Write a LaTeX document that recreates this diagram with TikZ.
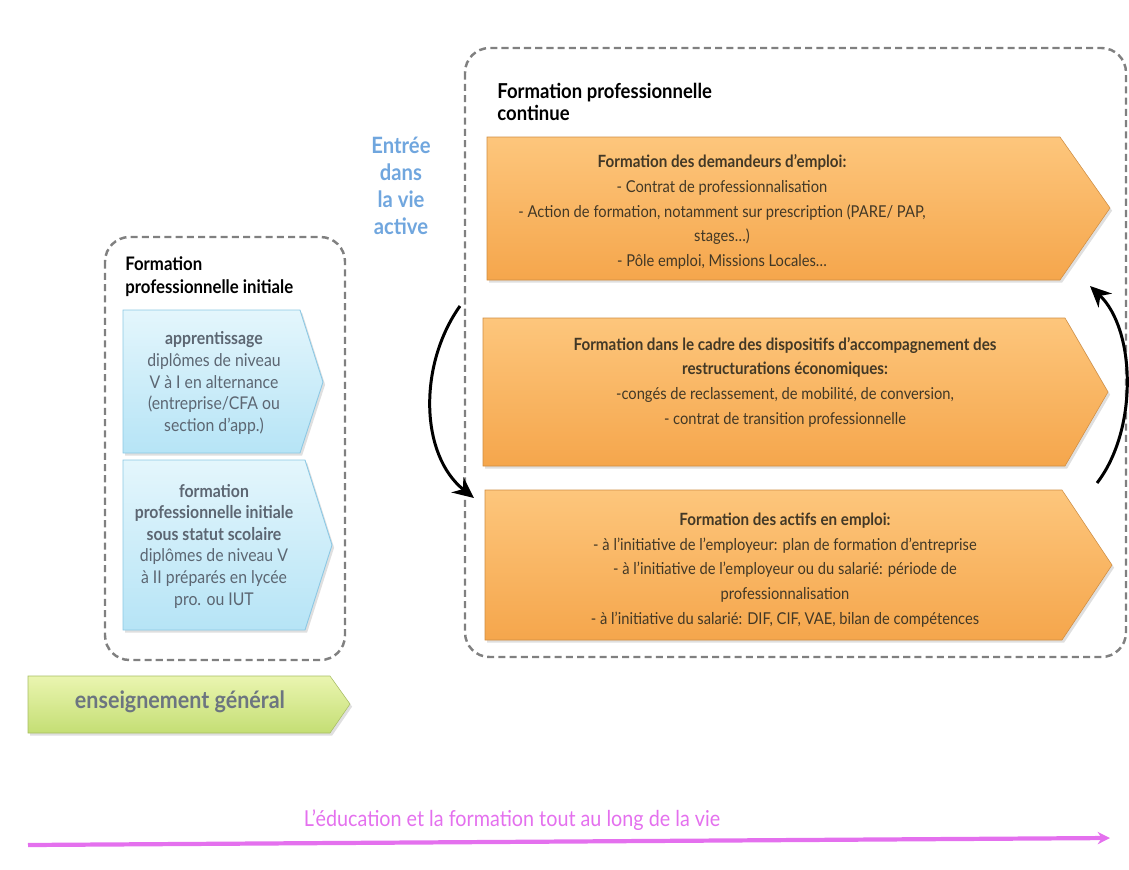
\documentclass[tikz,border=0pt]{standalone}
\usepackage{fontspec}
\setmainfont{Lato}[FakeStretch=0.9]
\usetikzlibrary{arrows.meta,shadows}

\definecolor{orangetop}{RGB}{253,198,124}
\definecolor{orangebot}{RGB}{245,166,76}
\definecolor{bluetop}{RGB}{228,246,252}
\definecolor{bluebot}{RGB}{182,228,246}
\definecolor{blueline}{RGB}{140,200,228}
\definecolor{greentop}{RGB}{234,245,176}
\definecolor{greenbot}{RGB}{196,222,116}
\definecolor{boxgray}{RGB}{128,128,128}
\definecolor{txtbrown}{RGB}{66,56,38}
\definecolor{txtgray}{RGB}{92,102,114}
\definecolor{entreeblue}{RGB}{112,166,222}
\definecolor{lifepink}{RGB}{228,112,238}

\tikzset{
  dashbox/.style={draw=boxgray, line width=1.4pt, dash pattern=on 4pt off 2.4pt, rounded corners=14pt},
  softshadow/.style={drop shadow={shadow xshift=1.2pt, shadow yshift=-1.5pt, opacity=0.25}},
  orangebox/.style={top color=orangetop, bottom color=orangebot, draw=orangebot!85!black, line width=0.3pt, softshadow},
  bluebox/.style={top color=bluetop, bottom color=bluebot, draw=blueline, line width=0.5pt, softshadow},
  greenbox/.style={top color=greentop, bottom color=greenbot, draw=greenbot!85!black, line width=0.3pt, softshadow},
  orangetxt/.style={align=center, text=txtbrown, font=\fontsize{9.3}{14}\selectfont},
  bluetxt/.style={align=center, text=txtgray, font=\fontsize{10}{12.3}\selectfont},
  titletxt/.style={align=left, anchor=north west, font=\bfseries, inner sep=0pt},
  cyclearrow/.style={line width=1.7pt, -{Stealth[length=12pt, width=11pt]}}
}

\begin{document}
\begin{tikzpicture}[x=0.02cm, y=-0.02cm]
  \useasboundingbox (0,0) rectangle (1129,869);

  % Initial training
  \draw[dashbox] (105,237) rectangle (345,660);
  \node[titletxt, font=\bfseries\fontsize{10.6}{13}\selectfont] (initTitle) at (125,256)
    {Formation\\professionnelle initiale};
  \path[bluebox] (123,310) -- (300,310) -- (323,382) -- (300,453) -- (123,453) -- cycle;
  \path[bluebox] (123,460) -- (305,460) -- (332,545) -- (305,630) -- (123,630) -- cycle;
  \node[bluetxt] (appr) at (214,383)
    {\textbf{apprentissage}\\diplômes de niveau\\V à I en alternance\\(entreprise/CFA ou\\section d'app.)};
  \node[bluetxt] (scol) at (214,546)
    {\textbf{formation}\\\textbf{professionnelle initiale}\\\textbf{sous statut scolaire}\\diplômes de niveau V\\à II préparés en lycée\\pro. ou IUT};

  % General education
  \path[greenbox] (28,676) -- (330,676) -- (350,704) -- (330,733) -- (28,733) -- cycle;
  \node[text=txtgray!90, font=\bfseries\fontsize{13.6}{15}\selectfont] (gen) at (180,702) {enseignement général};

  % Entry into working life
  \node[align=center, text=entreeblue, font=\bfseries\fontsize{12.8}{15.5}\selectfont] (entree) at (401,186)
    {Entrée\\dans\\la vie\\active};

  % Continuing training
  \draw[dashbox] (465,48) rectangle (1126,657);
  \node[titletxt, font=\bfseries\fontsize{11.7}{12.5}\selectfont] (contTitle) at (497,83)
    {Formation professionnelle\\continue};
  \path[orangebox] (487,137) -- (1060,137) -- (1110,208) -- (1060,280) -- (487,280) -- cycle;
  \path[orangebox] (483,318) -- (1065,318) -- (1108,392) -- (1065,466) -- (483,466) -- cycle;
  \path[orangebox] (485,490) -- (1062,490) -- (1112,565) -- (1062,640) -- (485,640) -- cycle;
  \node[orangetxt] (dem) at (722,212)
    {{\bfseries\fontsize{9.6}{14}\selectfont Formation des demandeurs d'emploi:}\\
     - Contrat de professionnalisation\\
     - Action de formation, notamment sur prescription (PARE/ PAP,\\
     stages…)\\
     - Pôle emploi, Missions Locales…};
  \node[orangetxt] (restr) at (785,382)
    {{\bfseries\fontsize{9.6}{14}\selectfont Formation dans le cadre des dispositifs d'accompagnement des}\\
     {\bfseries\fontsize{9.6}{14}\selectfont restructurations économiques:}\\
     -congés de reclassement, de mobilité, de conversion,\\
     - contrat de transition professionnelle};
  \node[orangetxt] (actifs) at (785,570)
    {{\bfseries\fontsize{9.6}{14}\selectfont Formation des actifs en emploi:}\\
     - à l'initiative de l'employeur: plan de formation d'entreprise\\
     - à l'initiative de l'employeur ou du salarié: période de\\
     professionnalisation\\
     - à l'initiative du salarié: DIF, CIF, VAE, bilan de compétences};

  % Cycle arrows
  \coordinate (l1) at (460,306);
  \coordinate (l2) at (474,498);
  \coordinate (r1) at (1097,483);
  \coordinate (r2) at (1090,286);
  \draw[cyclearrow] (l1) .. controls (418,365) and (420,455) .. (l2);
  \draw[cyclearrow] (r1) .. controls (1138,430) and (1136,330) .. (r2);

  % Lifelong learning
  \node[text=lifepink, font=\fontsize{12.5}{14}\selectfont] (life) at (512,820)
    {L'éducation et la formation tout au long de la vie};
  \coordinate (lifeStart) at (28,845);
  \coordinate (lifeEnd) at (1110,838);
  \draw[lifepink, line width=2.4pt, -{Stealth[length=7pt, width=7pt]}] (lifeStart) -- (lifeEnd);
\end{tikzpicture}
\end{document}
